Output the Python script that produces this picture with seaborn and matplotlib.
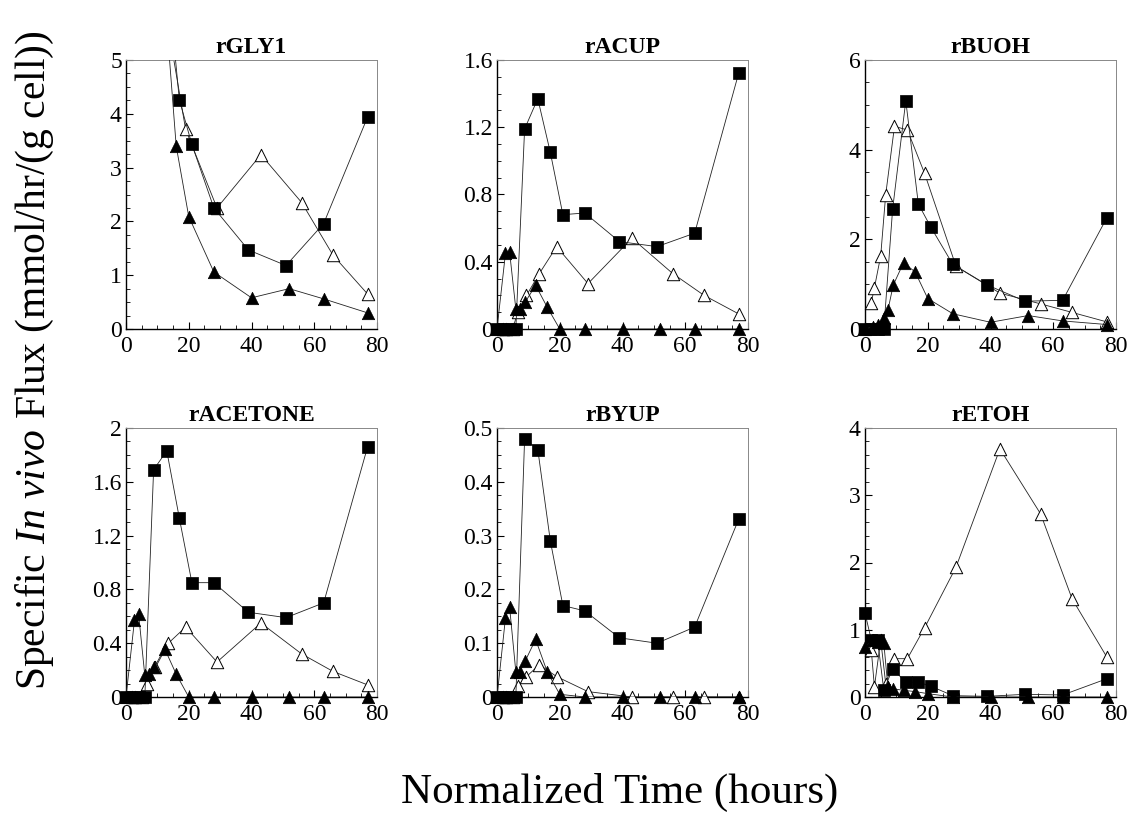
import numpy as np
import pandas as pd
import matplotlib
matplotlib.use("Agg")
import matplotlib.pyplot as plt
import seaborn as sns
from matplotlib.ticker import MultipleLocator, FuncFormatter

nan = np.nan

# ---- data ----
panels = ["rGLY1", "rACUP", "rBUOH", "rACETONE", "rBYUP", "rETOH"]

t_sq = [0, 2, 4, 6, 8.8, 13, 17, 21, 28, 39, 51, 63, 77]          # filled squares
t_ot = [2, 3, 5, 6.6, 9.4, 13.5, 19, 29, 43, 56, 66, 77]          # open triangles
t_ft = [0, 2.7, 4, 6, 7.3, 9, 12.3, 16, 20, 28, 40, 52, 63, 77]   # filled triangles

gly1_sq = [nan, nan, nan, nan, nan, 6.7, 4.26, 3.43, 2.25, 1.47, 1.18, 1.96, 3.94]
gly1_ot = [nan, nan, nan, nan, nan, 5.6, 3.71, 2.25, 3.24, 2.35, 1.37, 0.65]
gly1_ft = [nan, nan, nan, nan, nan, nan, 6.2, 3.40, 2.09, 1.06, 0.58, 0.75, 0.56, 0.30]

acup_sq = [0, 0, 0, 0, 1.19, 1.37, 1.05, 0.68, 0.69, 0.52, 0.49, 0.57, 1.52]
acup_ot = [0, 0, 0, 0.10, 0.20, 0.33, 0.49, 0.27, 0.54, 0.33, 0.20, 0.09]
acup_ft = [0, 0.45, 0.46, 0.12, 0.12, 0.16, 0.26, 0.13, 0, 0, 0, 0, 0, 0]

buoh_sq = [0, 0, 0, 0, 2.67, 5.09, 2.79, 2.27, 1.44, 0.98, 0.62, 0.64, 2.47]
buoh_ot = [0.59, 0.92, 1.63, 3.0, 4.52, 4.44, 3.47, 1.40, 0.80, 0.56, 0.37, 0.16]
buoh_ft = [0, 0.05, 0.10, 0.25, 0.42, 0.98, 1.48, 1.27, 0.68, 0.34, 0.15, 0.30, 0.18, 0.10]

acetone_sq = [0, 0, 0, 0, 1.69, 1.83, 1.33, 0.85, 0.85, 0.63, 0.59, 0.70, 1.86]
acetone_ot = [0, 0, 0, 0.10, 0.22, 0.40, 0.52, 0.26, 0.55, 0.32, 0.19, 0.09]
acetone_ft = [0, 0.57, 0.62, 0.16, 0.17, 0.22, 0.36, 0.17, 0, 0, 0, 0, 0, 0]

byup_sq = [0, 0, 0, 0, 0.48, 0.46, 0.29, 0.17, 0.16, 0.11, 0.10, 0.13, 0.33]
byup_ot = [0, 0, 0, 0.02, 0.038, 0.06, 0.038, 0.01, 0, 0, 0, 0]
byup_ft = [0, 0.147, 0.168, 0.047, 0.047, 0.067, 0.107, 0.047, 0.005, 0, 0, 0, 0, 0]

etoh_sq = [1.25, 0.85, 0.85, 0.10, 0.42, 0.22, 0.22, 0.16, 0.02, 0.01, 0.04, 0.03, 0.27]
etoh_ot = [0.70, 0.15, 0.85, 0.20, 0.57, 0.57, 1.03, 1.93, 3.69, 2.72, 1.46, 0.60]
etoh_ft = [0.75, 0.85, 0.82, 0.80, 0.15, 0.12, 0.10, 0.08, 0.05, 0, 0, 0, 0, 0]

series = {
    "rGLY1": (gly1_sq, gly1_ot, gly1_ft),
    "rACUP": (acup_sq, acup_ot, acup_ft),
    "rBUOH": (buoh_sq, buoh_ot, buoh_ft),
    "rACETONE": (acetone_sq, acetone_ot, acetone_ft),
    "rBYUP": (byup_sq, byup_ot, byup_ft),
    "rETOH": (etoh_sq, etoh_ot, etoh_ft),
}

y_max = {"rGLY1": 5, "rACUP": 1.6, "rBUOH": 6, "rACETONE": 2, "rBYUP": 0.5, "rETOH": 4}
y_major = {"rGLY1": 1, "rACUP": 0.4, "rBUOH": 2, "rACETONE": 0.4, "rBYUP": 0.1, "rETOH": 1}
y_minor = {"rGLY1": 0.25, "rACUP": 0.1, "rBUOH": 0.5, "rACETONE": 0.1, "rBYUP": 0.025, "rETOH": 0.2}
x_ticks = [0, 20, 40, 60, 80]

# ---- build long table ----
rows = []
for p in panels:
    sq, ot, ft = series[p]
    for t, v in zip(t_sq, sq):
        rows.append((p, "sq", t, v))
    for t, v in zip(t_ot, ot):
        rows.append((p, "ot", t, v))
    for t, v in zip(t_ft, ft):
        rows.append((p, "ft", t, v))
df = pd.DataFrame(rows, columns=["panel", "kind", "t", "v"]).dropna()

# ---- style ----
sns.set_theme(style="ticks")
plt.rcParams["font.family"] = ["Liberation Serif", "DejaVu Serif"]
plt.rcParams["mathtext.fontset"] = "custom"
plt.rcParams["mathtext.rm"] = "Liberation Serif"
plt.rcParams["mathtext.it"] = "Liberation Serif:italic"
plt.rcParams["text.color"] = "black"
plt.rcParams["axes.labelcolor"] = "black"
plt.rcParams["axes.titlecolor"] = "black"

fig = plt.figure(figsize=(11.27, 8.19), dpi=100)
W, H = 1127, 819
col_left = [126, 497, 865]
col_w = 251
row_top = [60, 428]
row_h = 269

style = {
    "ot": dict(marker="^", facecolor="white", edgecolor="black", s=80, lw=0.7, z=3),
    "sq": dict(marker="s", facecolor="black", edgecolor="black", s=72, lw=0.5, z=4),
    "ft": dict(marker="^", facecolor="black", edgecolor="black", s=80, lw=0.5, z=5),
}

def fmt(v, pos):
    if abs(v) < 1e-9:
        return "0"
    return ("%g" % round(v, 3))

for i, p in enumerate(panels):
    r, c = divmod(i, 3)
    left = col_left[c] / W
    bottom = 1 - (row_top[r] + row_h) / H
    ax = fig.add_axes([left, bottom, col_w / W, row_h / H])
    ymax = y_max[p]
    for kind in ["ot", "sq", "ft"]:
        sub = df[(df.panel == p) & (df.kind == kind)]
        st = style[kind]
        sns.lineplot(data=sub, x="t", y="v", ax=ax, color="#222222", lw=0.6,
                     sort=False, estimator=None, zorder=st["z"] - 0.5)
        vis = sub[sub.v <= ymax * 1.001]
        sns.scatterplot(data=vis, x="t", y="v", ax=ax, marker=st["marker"],
                        color=st["facecolor"], edgecolor=st["edgecolor"],
                        s=st["s"], linewidth=st["lw"], zorder=st["z"], clip_on=False)
    ax.set_xlim(0, 80)
    ax.set_ylim(0, ymax)
    ax.set_xticks(x_ticks)
    ax.xaxis.set_minor_locator(MultipleLocator(5))
    ax.yaxis.set_major_locator(MultipleLocator(y_major[p]))
    ax.yaxis.set_minor_locator(MultipleLocator(y_minor[p]))
    ax.yaxis.set_major_formatter(FuncFormatter(fmt))
    ax.tick_params(axis="both", which="major", direction="in", length=5, width=0.8,
                   labelsize=17, colors="black")
    ax.tick_params(axis="x", which="major", pad=5)
    ax.tick_params(axis="y", which="major", pad=3)
    ax.tick_params(axis="both", which="minor", direction="in", length=3, width=0.6,
                   colors="black")
    ax.set_xlabel("")
    ax.set_ylabel("")
    for s in ["left", "bottom"]:
        ax.spines[s].set_color("black")
        ax.spines[s].set_linewidth(1.0)
    for s in ["top", "right"]:
        ax.spines[s].set_color("#888888")
        ax.spines[s].set_linewidth(0.7)
    ax.set_title(p, fontsize=17, fontweight="bold", pad=5, color="black")
    ax.set_facecolor("white")

fig.text(0.031, 0.56, r"Specific $\mathit{In\ vivo}$ Flux (mmol/hr/(g cell))",
         rotation=90, ha="center", va="center", fontsize=30, color="black")
fig.text(0.55, 0.032, "Normalized Time (hours)", ha="center", va="center",
         fontsize=31, color="black")

fig.savefig("out.png", dpi=100, facecolor="white")
